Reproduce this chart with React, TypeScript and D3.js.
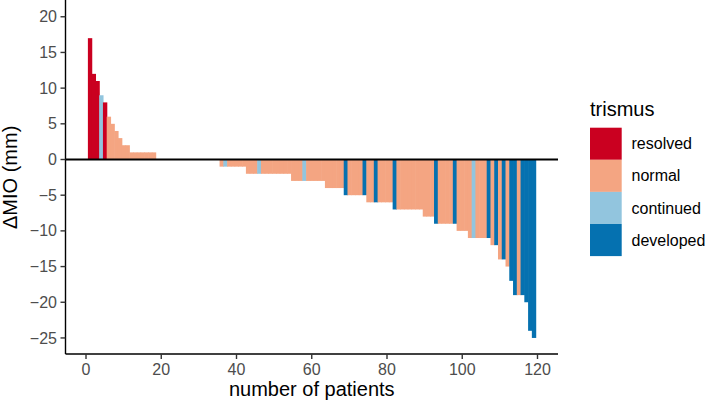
import React from "react";
import * as d3 from "d3";

// ---- data ----
const categoryNames = ["resolved", "normal", "continued", "developed"];
const categoryColors = ["#CA0020", "#F4A582", "#92C5DE", "#0571B0"];

// value of ΔMIO per patient (sorted) and trismus category (R=resolved, N=normal, C=continued, D=developed)
const deltaMIO: number[] = [
  17, 12, 11, 9, 8, 6, 5, 4, 3, 2, 2, 1, 1, 1, 1, 1, 1, 1,
  0, 0, 0, 0, 0, 0, 0, 0, 0, 0, 0, 0, 0, 0, 0, 0, 0,
  -1, -1, -1, -1, -1, -1, -1,
  -2, -2, -2, -2, -2, -2, -2, -2, -2, -2, -2, -2,
  -3, -3, -3, -3, -3, -3, -3, -3, -3,
  -4, -4, -4, -4, -4,
  -5, -5, -5, -5, -5, -5,
  -6, -6, -6, -6, -6, -6, -6,
  -7, -7, -7, -7, -7, -7, -7, -7,
  -8, -8, -8,
  -9, -9, -9, -9, -9, -9,
  -10, -10, -10,
  -11, -11, -11, -11, -11, -11,
  -12, -12, -14, -14, -15, -17, -19, -19, -19, -20, -24, -25,
];
const trismus: string[] = [
  "R", "R", "R", "C", "R", "N", "N", "N", "N", "N", "N", "N", "N", "N", "N", "N", "N", "N",
  "N", "N", "N", "N", "N", "N", "N", "N", "N", "N", "N", "N", "N", "N", "N", "N", "N",
  "N", "C", "N", "N", "N", "N", "N",
  "N", "N", "N", "C", "N", "N", "N", "N", "N", "N", "N", "N",
  "N", "N", "N", "C", "N", "N", "N", "N", "N",
  "N", "N", "N", "N", "N",
  "D", "N", "N", "N", "N", "D",
  "N", "N", "D", "N", "N", "N", "N",
  "D", "N", "N", "N", "N", "N", "N", "N",
  "N", "N", "N",
  "D", "N", "N", "N", "N", "D",
  "N", "N", "N",
  "N", "C", "N", "N", "N", "D",
  "N", "D", "N", "D", "N", "D", "D", "N", "D", "D", "D", "D",
];
const codeToCategory: Record<string, string> = { R: "resolved", N: "normal", C: "continued", D: "developed" };

const xTicks = [0, 20, 40, 60, 80, 100, 120];
const yTicks = [-25, -20, -15, -10, -5, 0, 5, 10, 15, 20];

export default function App() {
  const W = 709, H = 405;
  const left = 65.5, right = 558, top = 0.7, bottom = 354;
  const n = deltaMIO.length;
  const xmin = 0.5, xmax = n + 0.5;
  const xexp = (xmax - xmin) * 0.05;
  const x = d3.scaleLinear().domain([xmin - xexp, xmax + xexp]).range([left, right]);
  const ylo = -25, yhi = 20;
  const yexp = (yhi - ylo) * 0.05;
  const y = d3.scaleLinear().domain([ylo - yexp, yhi + yexp]).range([bottom, top]);
  const color = d3.scaleOrdinal<string, string>().domain(categoryNames).range(categoryColors);

  const font = "'Liberation Sans', Arial, Helvetica, sans-serif";
  const bars = deltaMIO.map((v, i) => ({ idx: i + 1, v, cat: codeToCategory[trismus[i]] }));

  return (
    <svg width={W} height={H} style={{ position: "absolute", left: 0, top: 0, background: "white" }} fontFamily={font}>
      <rect x={0} y={0} width={W} height={H} fill="white" />
      {bars.filter(b => b.v !== 0).map(b => {
        const x0 = x(b.idx - 0.5), x1 = x(b.idx + 0.5);
        const y0 = y(Math.max(0, b.v)), y1 = y(Math.min(0, b.v));
        return <rect key={b.idx} x={x0} y={y0} width={x1 - x0 + 0.6} height={y1 - y0} fill={color(b.cat)} />;
      })}
      {/* zero line */}
      <line x1={left} x2={right} y1={y(0)} y2={y(0)} stroke="black" strokeWidth={2} />
      {/* axes */}
      <line x1={left} x2={left} y1={top - 1} y2={bottom} stroke="black" strokeWidth={1.4} />
      <line x1={left} x2={right} y1={bottom} y2={bottom} stroke="black" strokeWidth={1.4} />
      {yTicks.map(t => (
        <g key={t}>
          <line x1={left - 5} x2={left} y1={y(t)} y2={y(t)} stroke="#333333" strokeWidth={1.4} />
          <text x={left - 8.5} y={y(t)} dy="0.35em" textAnchor="end" fontSize={16} fill="#4D4D4D">
            {t < 0 ? "\u2212" + Math.abs(t) : t}
          </text>
        </g>
      ))}
      {xTicks.map(t => (
        <g key={t}>
          <line x1={x(t)} x2={x(t)} y1={bottom} y2={bottom + 5} stroke="#333333" strokeWidth={1.4} />
          <text x={x(t)} y={bottom + 21} textAnchor="middle" fontSize={16} fill="#4D4D4D">{t}</text>
        </g>
      ))}
      <text x={(left + right) / 2} y={396} textAnchor="middle" fontSize={20} fill="black">number of patients</text>
      <text transform={`translate(17,${(top + bottom) / 2}) rotate(-90)`} textAnchor="middle" fontSize={20} fill="black">ΔMIO (mm)</text>
      {/* legend */}
      <text x={590} y={116} fontSize={20} fill="black">trismus</text>
      {categoryNames.map((c, i) => (
        <g key={c}>
          <rect x={590} y={127.7 + i * 32.1} width={31.7} height={32.1} fill={color(c)} />
          <text x={631.5} y={127.7 + i * 32.1 + 16} dy="0.35em" fontSize={16} fill="black">{c}</text>
        </g>
      ))}
    </svg>
  );
}
